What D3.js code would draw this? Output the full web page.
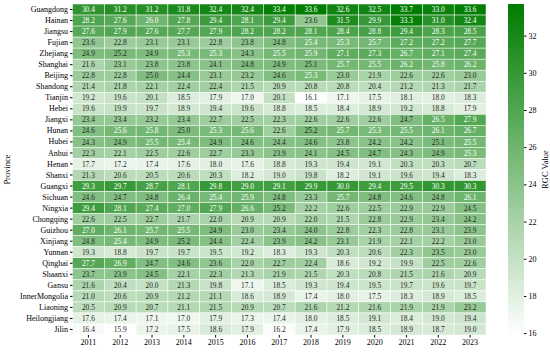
<!DOCTYPE html>
<html>
<head>
<meta charset="utf-8">
<script src="https://cdn.jsdelivr.net/npm/d3@7"></script>
<style>
  body { margin: 0; background: #fff; }
  svg text { font-family: "Liberation Serif", "DejaVu Serif", serif; }
</style>
</head>
<body>
<svg id="chart"></svg>
<script>
const years = [2011, 2012, 2013, 2014, 2015, 2016, 2017, 2018, 2019, 2020, 2021, 2022, 2023];

const provinces = ["Guangdong", "Hainan", "Jiangsu", "Fujian", "Zhejiang", "Shanghai", "Beijing",
  "Shandong", "Tianjin", "Hebei", "Jiangxi", "Hunan", "Hubei", "Anhui", "Henan", "Shanxi",
  "Guangxi", "Sichuan", "Ningxia", "Chongqing", "Guizhou", "Xinjiang", "Yunnan", "Qinghai",
  "Shaanxi", "Gansu", "InnerMongolia", "Liaoning", "Heilongjiang", "Jilin"];

// one row per province, 2011..2023
const rgc = [
  [30.4, 31.2, 31.2, 31.8, 32.4, 32.4, 33.4, 33.6, 32.6, 32.5, 33.7, 33.0, 33.6],
  [28.2, 27.6, 26.0, 27.8, 29.4, 28.1, 29.4, 23.6, 31.5, 29.9, 33.3, 31.0, 32.4],
  [27.6, 27.9, 27.6, 27.7, 27.9, 28.2, 28.2, 28.1, 28.4, 28.8, 29.4, 28.3, 28.5],
  [23.6, 22.8, 23.1, 23.1, 22.8, 23.8, 24.8, 25.4, 25.3, 25.7, 27.2, 27.2, 27.7],
  [24.9, 25.2, 24.9, 25.3, 25.3, 24.3, 25.5, 25.9, 27.1, 27.3, 26.7, 27.1, 27.4],
  [21.6, 23.1, 23.8, 23.8, 24.1, 24.8, 24.9, 25.1, 25.7, 25.5, 26.2, 25.8, 26.2],
  [22.8, 22.8, 25.0, 24.4, 23.1, 23.2, 24.6, 25.3, 23.0, 21.9, 22.6, 22.6, 23.0],
  [21.4, 21.8, 22.1, 22.4, 22.4, 21.5, 20.9, 20.8, 20.8, 20.4, 21.2, 21.3, 21.7],
  [19.2, 19.6, 20.1, 18.5, 17.9, 17.0, 20.1, 16.1, 17.1, 17.5, 18.1, 18.0, 18.3],
  [19.6, 19.9, 19.7, 18.9, 19.4, 19.6, 18.8, 18.5, 18.4, 18.9, 19.2, 18.8, 17.9],
  [23.4, 23.4, 23.2, 23.4, 22.7, 22.5, 22.3, 22.6, 22.6, 22.6, 24.7, 26.5, 27.9],
  [24.6, 25.6, 25.8, 25.0, 25.3, 25.6, 22.6, 25.2, 25.7, 25.3, 25.5, 26.1, 26.7],
  [24.3, 24.9, 25.5, 25.4, 24.9, 24.6, 24.4, 24.6, 23.8, 24.2, 24.2, 25.1, 25.5],
  [22.3, 22.1, 22.5, 22.6, 22.7, 23.3, 23.9, 24.1, 24.5, 24.7, 24.3, 24.9, 25.3],
  [17.7, 17.2, 17.4, 17.6, 18.0, 17.6, 18.8, 19.3, 19.4, 19.1, 20.3, 20.3, 20.7],
  [21.3, 20.6, 20.5, 20.6, 20.3, 18.2, 19.0, 19.8, 18.2, 19.1, 19.6, 19.4, 18.3],
  [29.3, 29.7, 28.7, 28.1, 29.8, 29.0, 29.1, 29.9, 30.0, 29.4, 29.5, 30.3, 30.3],
  [24.6, 24.7, 24.8, 26.4, 25.4, 25.9, 24.8, 23.3, 25.7, 24.8, 24.6, 24.8, 26.1],
  [29.4, 28.1, 27.4, 27.0, 27.9, 26.6, 25.2, 22.2, 22.6, 22.5, 22.9, 22.9, 24.5],
  [22.6, 22.5, 22.7, 21.7, 22.0, 20.9, 20.9, 22.0, 21.5, 22.8, 22.9, 23.4, 24.2],
  [27.0, 26.1, 25.7, 25.5, 24.9, 23.0, 23.4, 24.0, 22.8, 22.3, 22.8, 23.1, 23.9],
  [24.8, 25.4, 24.9, 25.2, 24.4, 22.4, 23.9, 24.2, 23.1, 21.9, 22.1, 22.2, 23.0],
  [19.3, 18.8, 19.7, 19.7, 19.5, 19.2, 18.3, 19.3, 20.3, 20.6, 22.3, 23.5, 23.0],
  [27.7, 26.9, 24.7, 24.6, 23.6, 22.0, 22.7, 22.4, 18.6, 19.2, 19.9, 22.5, 22.6],
  [23.7, 23.9, 24.5, 22.1, 22.3, 21.3, 21.9, 21.5, 20.3, 20.8, 21.5, 21.6, 20.9],
  [21.6, 20.4, 20.0, 21.3, 19.8, 17.1, 18.5, 19.3, 19.4, 19.5, 19.7, 19.6, 19.7],
  [21.0, 20.6, 20.9, 21.2, 21.1, 18.6, 18.9, 17.4, 18.0, 17.5, 18.3, 18.9, 18.5],
  [20.5, 20.9, 20.7, 21.1, 21.5, 20.9, 20.7, 21.6, 21.2, 21.6, 21.9, 21.9, 23.2],
  [17.6, 17.4, 17.1, 17.0, 17.9, 17.3, 17.4, 18.0, 18.5, 19.1, 18.4, 19.0, 19.4],
  [16.4, 15.9, 17.2, 17.5, 18.6, 17.9, 16.2, 17.4, 17.9, 18.5, 18.9, 18.7, 19.0]
];

const cbarTicks = [16, 18, 20, 22, 24, 26, 28, 30, 32];

function drawHeatmap() {
  const width = 550, height = 353;
  const svg = d3.select("#chart").attr("width", width).attr("height", height);

  const left = 72.5, right = 486, top = 4, bottom = 335;

  const x = d3.scaleBand().domain(years).range([left, right]);
  const y = d3.scaleBand().domain(provinces).range([top, bottom]);

  const all = rgc.flat();
  const vmin = d3.min(all), vmax = d3.max(all);
  const color = d3.scaleLinear().domain([vmin, vmax]).range(["#ffffff", "#007c00"]);

  const cells = [];
  provinces.forEach((p, i) => {
    years.forEach((yr, j) => cells.push({ p, yr, v: rgc[i][j] }));
  });

  // relative luminance, same rule seaborn uses for annotation colour
  function lum(c) {
    const rgb = d3.rgb(c);
    const f = v => {
      v = v / 255;
      return v <= 0.03928 ? v / 12.92 : Math.pow((v + 0.055) / 1.055, 2.4);
    };
    return 0.2126 * f(rgb.r) + 0.7152 * f(rgb.g) + 0.0722 * f(rgb.b);
  }

  const g = svg.append("g");
  g.selectAll("rect")
    .data(cells)
    .enter()
    .append("rect")
    .attr("x", d => x(d.yr))
    .attr("y", d => y(d.p))
    .attr("width", x.bandwidth())
    .attr("height", y.bandwidth())
    .attr("fill", d => color(d.v))
    .attr("stroke", "#fff")
    .attr("stroke-width", 0.5);

  g.selectAll("text")
    .data(cells)
    .enter()
    .append("text")
    .attr("x", d => x(d.yr) + x.bandwidth() / 2)
    .attr("y", d => y(d.p) + y.bandwidth() / 2)
    .attr("dy", "0.35em")
    .attr("text-anchor", "middle")
    .attr("font-size", 7.4)
    .attr("fill", d => lum(color(d.v)) > 0.408 ? "#262626" : "#fff")
    .text(d => d.v.toFixed(1));

  // axes
  const yAxis = svg.append("g")
    .attr("transform", `translate(${left},0)`)
    .call(d3.axisLeft(y).tickSize(2.5).tickPadding(2));
  yAxis.select(".domain").remove();
  yAxis.selectAll("text").attr("font-size", 8).attr("fill", "#000");

  const xAxis = svg.append("g")
    .attr("transform", `translate(0,${bottom})`)
    .call(d3.axisBottom(x).tickSize(2.5).tickPadding(2));
  xAxis.select(".domain").remove();
  xAxis.selectAll("text").attr("font-size", 8).attr("fill", "#000");

  svg.append("text")
    .attr("transform", `translate(10,${(top + bottom) / 2}) rotate(-90)`)
    .attr("text-anchor", "middle")
    .attr("font-size", 8.5)
    .text("Province");

  // colour bar
  const cbx = 508, cbw = 16;
  const cy = d3.scaleLinear().domain([vmin, vmax]).range([bottom, top]);
  const grad = svg.append("defs").append("linearGradient")
    .attr("id", "cbar")
    .attr("x1", 0).attr("y1", 1).attr("x2", 0).attr("y2", 0);
  grad.append("stop").attr("offset", 0).attr("stop-color", color(vmin));
  grad.append("stop").attr("offset", 1).attr("stop-color", color(vmax));

  svg.append("rect")
    .attr("x", cbx).attr("y", top)
    .attr("width", cbw).attr("height", bottom - top)
    .attr("fill", "url(#cbar)");

  const cAxis = svg.append("g")
    .attr("transform", `translate(${cbx + cbw},0)`)
    .call(d3.axisRight(cy).tickValues(cbarTicks).tickSize(2.5).tickPadding(2));
  cAxis.select(".domain").remove();
  cAxis.selectAll("text").attr("font-size", 8).attr("fill", "#000");

  svg.append("text")
    .attr("transform", `translate(548,${(top + bottom) / 2}) rotate(-90)`)
    .attr("text-anchor", "middle")
    .attr("font-size", 8.5)
    .text("RGC Value");
}

drawHeatmap();
</script>
</body>
</html>
